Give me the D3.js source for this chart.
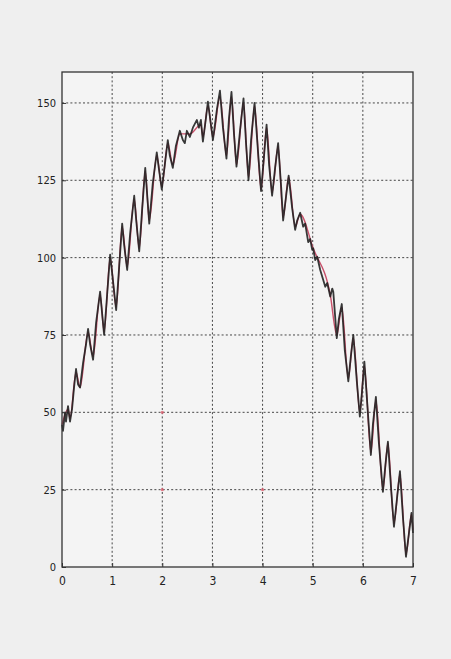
<!DOCTYPE html>
<html>
<head>
<meta charset="utf-8">
<script src="https://cdn.jsdelivr.net/npm/d3@7"></script>
<style>
  html, body { margin: 0; padding: 0; background: #efefef; }
  svg { display: block; }
  .tick text { font-family: "DejaVu Sans Condensed", "Liberation Sans Narrow", sans-serif; font-stretch: condensed; fill: #222; }
</style>
</head>
<body>
<svg id="chart" width="451" height="659"></svg>
<script>
// Measured signal (black) sampled along t
const tMeasured = [
  0.00, 0.02, 0.06, 0.08, 0.12, 0.16, 0.20, 0.24, 0.28, 0.32, 0.36, 0.42, 0.48, 0.52, 0.56,
  0.62, 0.68, 0.76, 0.80, 0.84, 0.90, 0.96, 1.02, 1.08, 1.14, 1.20, 1.24, 1.30, 1.36, 1.44,
  1.48, 1.54, 1.60, 1.66, 1.70, 1.74, 1.81, 1.89, 1.93, 1.99, 2.05, 2.11, 2.15, 2.21, 2.27,
  2.35, 2.41, 2.45, 2.49, 2.55, 2.61, 2.69, 2.73, 2.77, 2.81, 2.87, 2.91, 2.97, 3.01, 3.09,
  3.15, 3.21, 3.28, 3.33, 3.38, 3.43, 3.48, 3.55, 3.62, 3.67, 3.72, 3.77, 3.84, 3.91, 3.97,
  4.03, 4.08, 4.13, 4.19, 4.25, 4.31, 4.37, 4.41, 4.47, 4.52, 4.59, 4.65, 4.69, 4.75, 4.81,
  4.85, 4.91, 4.95, 4.99, 5.01, 5.05, 5.09, 5.15, 5.21, 5.25, 5.29, 5.35, 5.39, 5.41, 5.48,
  5.52, 5.58, 5.64, 5.71, 5.76, 5.81, 5.88, 5.94, 5.99, 6.03, 6.10, 6.16, 6.20, 6.26, 6.32,
  6.40, 6.45, 6.50, 6.56, 6.62, 6.68, 6.74, 6.80, 6.86, 6.92, 6.97, 7.00
];
const yMeasured = [
  46, 44, 50, 47, 52, 47, 51, 58, 64, 59, 58, 66, 72, 77, 72,
  67, 79, 89, 82, 75, 88, 101, 92, 83, 97, 111, 104, 96, 108, 120,
  112, 102, 116, 129, 120, 111, 124, 134, 129, 122, 130, 138, 133, 129, 136,
  141, 138, 137, 141, 139, 142, 144.5, 142, 144.5, 137.5, 145, 150.4, 143, 138, 148,
  154, 142, 132, 145, 153.6, 140, 129.4, 141, 151.5, 137, 125, 138, 150, 134, 121.5,
  133, 143, 130, 120, 129, 137, 123, 112, 120, 126.5, 116, 109, 112, 114.5, 110,
  111, 105, 106, 102.5, 103, 99.2, 100.3, 96, 92.8, 90.6, 91.8, 87.4, 90, 89, 74,
  80, 85, 70, 60, 68, 75, 60, 48.6, 58, 66.4, 50, 36.2, 46, 55, 40,
  24.3, 33, 40.5, 26, 13, 22, 31, 16, 3.3, 11, 17.5, 11
];

// Fitted model (red): turning points of the oscillation
const tModel = [
  0.00, 0.12, 0.16, 0.28, 0.36, 0.52, 0.62, 0.76, 0.84, 0.96, 1.08, 1.20, 1.30, 1.44, 1.54,
  1.66, 1.74, 1.89, 1.99, 2.11, 2.21, 2.35, 2.55, 2.77, 2.81, 2.91, 3.01, 3.15, 3.28, 3.38,
  3.48, 3.62, 3.72, 3.84, 3.97, 4.08, 4.19, 4.31, 4.41, 4.52, 4.65, 4.75, 5.01, 5.35, 5.48,
  5.58, 5.71, 5.81, 5.94, 6.03, 6.16, 6.26, 6.40, 6.50, 6.62, 6.74, 6.86, 6.97, 7.00
];
const yModel = [
  46, 51, 48, 63, 58, 76, 68, 88, 76, 100, 84, 110, 97, 119, 103,
  128, 112, 133, 123, 137, 130, 140, 140, 143, 139, 149, 139, 152, 133, 152,
  130, 150, 126, 149, 122, 142, 121, 136, 113, 126, 110, 114, 103, 88, 75,
  84, 61, 74, 50, 65, 37, 54, 25, 40, 14, 30, 4, 17, 12
];

// Axis ticks
const xTicks = [0, 1, 2, 3, 4, 5, 6, 7];
const yTicks = [0, 25, 50, 75, 100, 125, 150];

// Highlighted grid crossings
const markT = [2, 2, 4];
const markY = [50, 25, 25];

const margin = { left: 62, right: 38, top: 72, bottom: 92 };
const W = 451, H = 659;
const svg = d3.select("#chart");

svg.append("rect").attr("width", W).attr("height", H).attr("fill", "#efefef");

const x = d3.scaleLinear().domain([0, 7]).range([margin.left, W - margin.right]);
const y = d3.scaleLinear().domain([0, 160]).range([H - margin.bottom, margin.top]);

// plot area
svg.append("rect")
  .attr("x", x(0)).attr("y", y(160))
  .attr("width", x(7) - x(0)).attr("height", y(0) - y(160))
  .attr("fill", "#f4f4f4");

// grid
const grid = svg.append("g").attr("stroke", "#2a2a2a").attr("stroke-width", 1)
  .attr("stroke-dasharray", "2,2.2").attr("opacity", 0.85);
grid.selectAll(".vg").data(xTicks.slice(1, -1)).join("line")
  .attr("x1", d => x(d)).attr("x2", d => x(d))
  .attr("y1", y(160)).attr("y2", y(0));
grid.selectAll(".hg").data(yTicks.slice(1)).join("line")
  .attr("x1", x(0)).attr("x2", x(7))
  .attr("y1", d => y(d)).attr("y2", d => y(d));

// marked crossings
svg.selectAll(".mk").data(markT.map((t, i) => [t, markY[i]])).join("circle")
  .attr("cx", d => x(d[0])).attr("cy", d => y(d[1])).attr("r", 1.6)
  .attr("fill", "#e06070").attr("opacity", 0.8);

// model line (red)
const modelPts = tModel.map((t, i) => [t, yModel[i]]);
svg.append("path").datum(modelPts)
  .attr("fill", "none").attr("stroke", "#c8506a").attr("stroke-width", 1.4)
  .attr("d", d3.line().x(d => x(d[0])).y(d => y(d[1])).curve(d3.curveMonotoneX));

// measured line (black)
const measPts = tMeasured.map((t, i) => [t, yMeasured[i]]);
svg.append("path").datum(measPts)
  .attr("fill", "none").attr("stroke", "#1e1e1e").attr("stroke-width", 1.8)
  .attr("stroke-linejoin", "round").attr("opacity", 0.88)
  .attr("d", d3.line().x(d => x(d[0])).y(d => y(d[1])));

// axes
const xAxis = d3.axisBottom(x).tickValues(xTicks).tickFormat(d3.format("d"))
  .tickSizeInner(-4).tickSizeOuter(0).tickPadding(9);
const yAxis = d3.axisLeft(y).tickValues(yTicks).tickFormat(d3.format("d"))
  .tickSizeInner(-4).tickSizeOuter(0).tickPadding(6);

const gx = svg.append("g").attr("transform", `translate(0,${y(0)})`).call(xAxis);
const gy = svg.append("g").attr("transform", `translate(${x(0)},0)`).call(yAxis);
[gx, gy].forEach(g => {
  g.select(".domain").remove();
  g.selectAll(".tick line").attr("stroke", "#333");
});
gx.selectAll(".tick text").attr("font-size", 12);
gy.selectAll(".tick text").attr("font-size", 11);

// frame
svg.append("rect")
  .attr("x", x(0)).attr("y", y(160))
  .attr("width", x(7) - x(0)).attr("height", y(0) - y(160))
  .attr("fill", "none").attr("stroke", "#333").attr("stroke-width", 1.3);
</script>
</body>
</html>
